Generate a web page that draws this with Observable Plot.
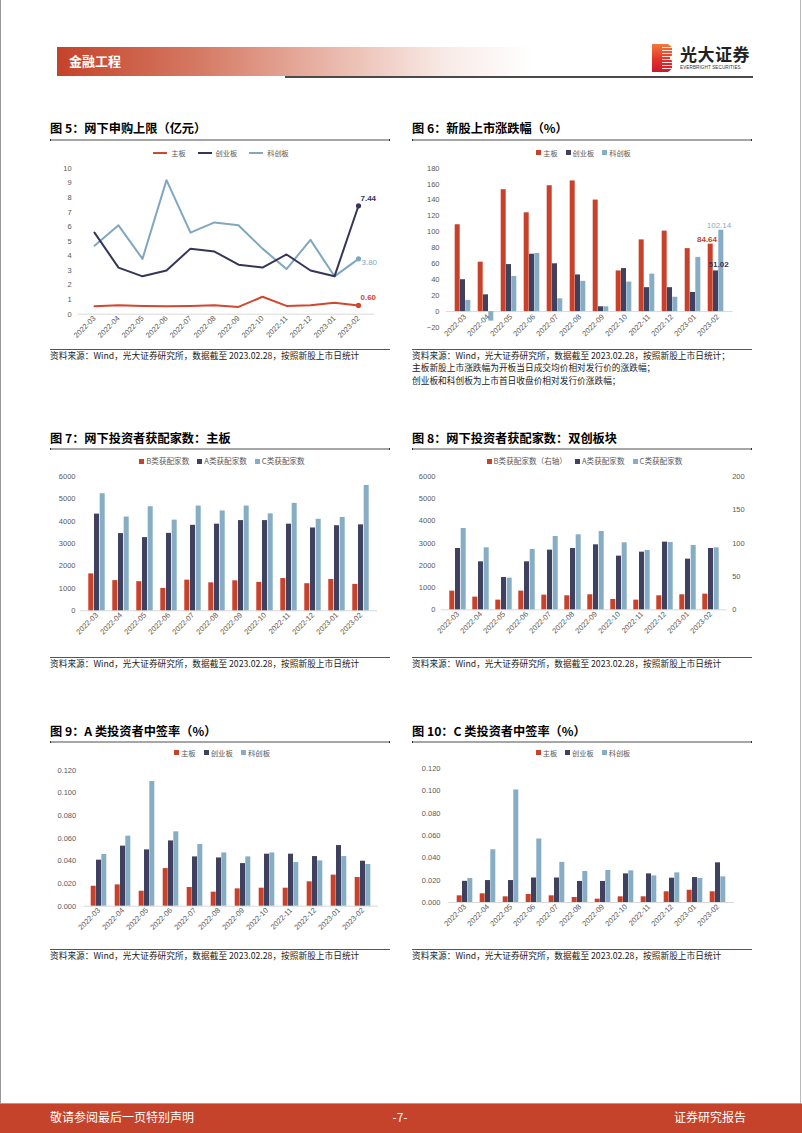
<!DOCTYPE html>
<html><head><meta charset="utf-8">
<script src="https://cdn.jsdelivr.net/npm/d3@7"></script>
<script src="https://cdn.jsdelivr.net/npm/@observablehq/plot@0.6"></script>
<style>
body{margin:0;background:#fff;}
#page{position:relative;width:802px;height:1133px;overflow:hidden;font-family:"Noto Sans CJK SC","Noto Sans",sans-serif;background:#fff;}
.abs{position:absolute;}
.title{position:absolute;font-weight:700;font-size:12.2px;line-height:17px;color:#000;white-space:nowrap;}
.uline{position:absolute;height:2px;background:#a6a6a6;border-left:1px solid #333;border-right:1px solid #333;}
.src{position:absolute;font-size:8.7px;color:#222;white-space:nowrap;line-height:12.5px;}
.srcline{position:absolute;height:1px;background:#555;width:340px;}
.legend{position:absolute;width:340px;display:flex;justify-content:center;align-items:center;font-size:7.2px;color:#595959;white-space:nowrap;gap:8px;line-height:10px;}
.legend .item{display:flex;align-items:center;gap:2px;}
.sw{display:inline-block;width:5px;height:5px;}
.ln{display:inline-block;width:14px;height:2px;margin-right:2px;}
</style></head>
<body><div id="page"></div>
<script>
// ---------------- data ----------------
const months = ["2022-03","2022-04","2022-05","2022-06","2022-07","2022-08","2022-09","2022-10","2022-11","2022-12","2023-01","2023-02"];
const boards = ["主板","创业板","科创板"];
// 图5 网下申购上限（亿元）
const capMain = [0.55,0.62,0.57,0.55,0.57,0.62,0.50,1.20,0.57,0.62,0.78,0.60];
const capGem  = [5.6,3.2,2.6,3.0,4.5,4.3,3.4,3.2,4.1,3.0,2.6,7.44];
const capStar = [4.7,6.1,3.8,9.2,5.6,6.3,6.1,4.5,3.1,5.1,2.6,3.80];
const capTicks = [0,1,2,3,4,5,6,7,8,9,10];
// 图6 新股上市涨跌幅（%）
const retMain = [109,62,153,124,158,164,140,51,90,101,79,84.64];
const retGem  = [40,21,59,72,60,46,6,54,30,30,24,51.02];
const retStar = [14,-12,44,73,16,38,6,37,47,18,68,102.14];
const retTicks = [-20,0,20,40,60,80,100,120,140,160,180];
// 图7 主板获配家数
const mainSeries = ["B类获配家数","A类获配家数","C类获配家数"];
const mainB = [1650,1350,1300,1000,1370,1250,1340,1270,1440,1210,1400,1180];
const mainA = [4320,3450,3270,3460,3820,3870,4030,4030,3870,3700,3800,3840];
const mainC = [5230,4190,4650,4050,4680,4460,4680,4330,4800,4090,4170,5600];
const countTicks = [0,1000,2000,3000,4000,5000,6000];
// 图8 双创板块获配家数
const dualSeries = ["B类获配家数（右轴）","A类获配家数","C类获配家数"];
const dualB = [28,19,14.5,28,22,21,22.5,15.5,14.5,21,22.5,23.5];
const dualA = [2760,2160,1455,2160,2685,2760,2925,2415,2595,3045,2280,2760];
const dualC = [3660,2790,1425,2715,3300,3375,3525,3015,2670,3030,2895,2790];
const rightTicks = [0,50,100,150,200];
// 图9 A类中签率（%）
const rateAMain = [0.0176,0.0188,0.0132,0.0332,0.0165,0.0124,0.0153,0.0159,0.0159,0.0215,0.0274,0.0253];
const rateAGem  = [0.0406,0.0530,0.0497,0.0576,0.0435,0.0426,0.0376,0.0459,0.0459,0.0438,0.0535,0.0397];
const rateAStar = [0.0456,0.0618,0.1100,0.0656,0.0544,0.0470,0.0435,0.0470,0.0385,0.0400,0.0438,0.0368];
// 图10 C类中签率（%）
const rateCMain = [0.0060,0.0078,0.0051,0.0072,0.0060,0.0045,0.0030,0.0051,0.0051,0.0096,0.0110,0.0096];
const rateCGem  = [0.0190,0.0197,0.0197,0.0220,0.0220,0.0189,0.0189,0.0257,0.0257,0.0218,0.0224,0.0356];
const rateCStar = [0.0215,0.0473,0.1010,0.0570,0.0360,0.0278,0.0287,0.0284,0.0239,0.0266,0.0215,0.0230];
const rateTicks = [0,0.02,0.04,0.06,0.08,0.10,0.12];

const sourceText = "资料来源：Wind，光大证券研究所，数据截至 2023.02.28，按照新股上市日统计";

// ---------------- style ----------------
const RED = "#c8412a", NAVY = "#40405f", BLUE = "#86adc3";
const LRED = "#d2472f", LNAVY = "#35355a", LBLUE = "#7fa7bf";
const AXIS_FONT = "'Liberation Sans','Noto Sans CJK SC',sans-serif";

const page = document.getElementById("page");
function add(html){ const d=document.createElement("div"); d.innerHTML=html; while(d.firstChild) page.appendChild(d.firstChild); }
function place(node, left, top){ const w=document.createElement("div"); w.className="abs"; w.style.left=left+"px"; w.style.top=top+"px"; w.appendChild(node); page.appendChild(w); }
const axisStyle = {fontFamily: AXIS_FONT, fontSize: "7.5px", color: "#595959", background: "transparent", overflow: "visible"};

// ---------------- page frame ----------------
add(`<div class="abs" style="left:0;top:0;width:1px;height:1133px;background:#9a9a9a"></div>`);
add(`<div class="abs" style="left:800px;top:0;width:1px;height:1133px;background:#bbb"></div>`);
add(`<div class="abs" style="left:57px;top:47px;width:475px;height:29px;background:linear-gradient(to right,#c4432a 0%,#d57a64 30%,#ebbcb0 60%,#f8ebe7 82%,rgba(255,255,255,0) 100%)"></div>`);
add(`<div class="abs" style="left:69px;top:51px;font-size:13px;font-weight:700;color:#fff;line-height:20px">金融工程</div>`);
add(`<div class="abs" style="left:285px;top:76px;width:468px;height:1.5px;background:#4a4a4a"></div>`);
// logo
add(`<div class="abs" style="left:652px;top:44px;width:20px;height:28px;background:linear-gradient(to bottom,#f07a3a,#e3332b 55%,#c8192b);clip-path:polygon(0 0,80% 0,100% 12%,100% 40%,88% 50%,100% 60%,100% 88%,80% 100%,0 100%)"></div>`);
add(`<div class="abs" style="left:662px;top:47px;width:10px;height:22px;background:repeating-linear-gradient(to bottom,rgba(255,255,255,0.85) 0 1px,rgba(255,255,255,0) 1px 3px)"></div>`);
add(`<div class="abs" style="left:680px;top:43px;font-size:17px;font-weight:700;color:#222;line-height:22px;letter-spacing:0.5px">光大证券</div>`);
add(`<div class="abs" style="left:680px;top:65px;font-size:4.6px;color:#333;line-height:6px;font-family:'Liberation Sans';letter-spacing:0.1px">EVERBRIGHT SECURITIES</div>`);
// footer
add(`<div class="abs" style="left:0;top:1103px;width:802px;height:30px;background:#c5432a;border-top:1px solid #d98a78"></div>`);
add(`<div class="abs" style="left:50px;top:1108px;font-size:12px;color:#fff;line-height:18px">敬请参阅最后一页特别声明</div>`);
add(`<div class="abs" style="left:380px;top:1108px;width:40px;text-align:center;font-size:12px;color:#fff;line-height:18px">-7-</div>`);
add(`<div class="abs" style="left:600px;top:1108px;width:146px;text-align:right;font-size:12px;color:#fff;line-height:18px">证券研究报告</div>`);

// ---------------- titles / sources ----------------
function titleBlock(text, left, top, ulineTop){
  add(`<div class="title" style="left:${left}px;top:${top}px">${text}</div>`);
  add(`<div class="uline" style="left:${left}px;top:${ulineTop}px;width:338px"></div>`);
}
titleBlock("图 5：网下申购上限（亿元）", 50, 119.5, 139);
titleBlock("图 6：新股上市涨跌幅（%）", 412, 119.5, 139);
titleBlock("图 7：网下投资者获配家数：主板", 50, 429.5, 448);
titleBlock("图 8：网下投资者获配家数：双创板块", 412, 429.5, 448);
titleBlock("图 9：A 类投资者中签率（%）", 50, 722.5, 741);
titleBlock("图 10：C 类投资者中签率（%）", 412, 722.5, 741);

function source(lines, left, lineTop){
  add(`<div class="srcline" style="left:${left}px;top:${lineTop}px"></div>`);
  add(`<div class="src" style="left:${left}px;top:${lineTop+0.5}px">${lines.join("<br>")}</div>`);
}
source([sourceText], 50, 349);
source([sourceText + "；", "主板新股上市涨跌幅为开板当日成交均价相对发行价的涨跌幅；", "创业板和科创板为上市首日收盘价相对发行价涨跌幅；"], 412, 349);
source([sourceText], 50, 657);
source([sourceText], 412, 657);
source([sourceText], 50, 949);
source([sourceText], 412, 949);

// ---------------- legends ----------------
function legend(names, colors, center, top, kind, fs){
  const items = names.map((n,i)=> `<span class="item">${kind==="line" ? `<span class="ln" style="background:${colors[i]}"></span>` : `<span class="sw" style="background:${colors[i]}"></span>`}${n}</span>`).join("");
  add(`<div class="legend" style="left:${center-170}px;top:${top-5}px;${fs?`font-size:${fs}px;`:""}${kind==="line"?"gap:12px;":""}">${items}</div>`);
}
legend(boards, [LRED, LNAVY, LBLUE], 221, 153, "line");
legend(boards, [RED, NAVY, BLUE], 583.5, 152.7, "sq");
legend(mainSeries, [RED, NAVY, BLUE], 222, 461, "sq", 7.6);
legend(dualSeries, [RED, NAVY, BLUE], 584.5, 461, "sq", 7.6);
legend(boards, [RED, NAVY, BLUE], 222, 752.7, "sq", 7.4);
legend(boards, [RED, NAVY, BLUE], 583, 752.7, "sq", 7.2);

// ---------------- Figure 5: lines ----------------
{
  const series = [
    {name: "科创板", values: capStar, color: LBLUE},
    {name: "创业板", values: capGem, color: LNAVY},
    {name: "主板", values: capMain, color: LRED}
  ];
  const marks = [
    Plot.ruleY([0], {stroke: "#d9d9d9"}),
    Plot.axisY({ticks: capTicks, tickSize: 0, tickPadding: 6.5, label: null}),
    Plot.axisX({tickSize: 0, tickPadding: 3, tickRotate: -45, label: null})
  ];
  const labelOffsets = {"科创板": [3, 4, 400], "创业板": [2, -7, 700], "主板": [2, -8, 700]};
  for (const s of series) {
    const data = months.map((m,i)=>({m, v: s.values[i]}));
    marks.push(Plot.line(data, {x: "m", y: "v", stroke: s.color, strokeWidth: 2}));
    const last = [data[data.length-1]];
    marks.push(Plot.dot(last, {x: "m", y: "v", r: 2.6, fill: s.color}));
    const [dx, dy, fw] = labelOffsets[s.name];
    marks.push(Plot.text(last, {x: "m", y: "v", text: d => d.v.toFixed(2), fill: s.color, dx, dy, textAnchor: "start", fontWeight: fw, fontSize: 8}));
  }
  place(Plot.plot({width: 340, height: 190, marginLeft: 27.6, marginRight: 16, marginTop: 8, marginBottom: 36.3,
    style: axisStyle,
    x: {type: "point", domain: months, padding: 0.5, label: null},
    y: {domain: [0, 10], label: null},
    marks}), 50, 160);
}

// ---------------- grouped bars helper ----------------
function barChart({width=340, height, ml, mr, mt, mb, domain, ticks, fmt, pad, series, barW, barStep, zeroLabels=false, texts=[], right=null}){
  const n = months.length;
  const stepCat = (width - ml - mr) / n;
  const pi = 1 - barW / stepCat;
  const marks = [Plot.ruleY([0], {stroke: "#d9d9d9"})];
  series.forEach((s, k) => {
    const data = months.map((m,i)=>({m, v: s.values[i] * (s.factor || 1)}));
    marks.push(Plot.barY(data, {x: "m", y: "v", fill: s.color, dx: (k-1) * barStep}));
  });
  marks.push(Plot.axisY({ticks, tickSize: 0, tickPadding: pad, tickFormat: fmt, label: null}));
  if (right) marks.push(Plot.axisY({anchor: "right", ticks: right.ticks.map(t => t * right.factor), tickFormat: d => d3.format("d")(d / right.factor), tickSize: 0, tickPadding: right.pad, label: null}));
  if (zeroLabels) {
    marks.push(Plot.text(months, {x: d => d, y: () => 0, text: d => d, rotate: -45, textAnchor: "end", lineAnchor: "middle", dy: 4, dx: 2}));
  } else {
    marks.push(Plot.axisX({tickSize: 0, tickPadding: 3, tickRotate: -45, label: null}));
  }
  marks.push(...texts);
  return Plot.plot({width, height, marginLeft: ml, marginRight: mr, marginTop: mt, marginBottom: mb,
    style: axisStyle,
    x: {type: "band", domain: months, paddingInner: pi, paddingOuter: pi/2, label: null, axis: zeroLabels ? null : undefined},
    y: {domain, label: null},
    marks});
}
const intFmt = d3.format("d");

// ---------------- Figure 6 ----------------
{
  const lastIdx = months.length - 1;
  const lab = (vals, color, dx, dy, fw) => Plot.text([{m: months[lastIdx], v: vals[lastIdx]}], {x: "m", y: "v", text: d => d.v.toFixed(2), fill: color, dx, dy, textAnchor: "middle", fontWeight: fw, fontSize: 8});
  place(barChart({height: 190, ml: 35.75, mr: 17.4, mt: 7.7, mb: 23, domain: [-20, 180], ticks: retTicks, fmt: intFmt, pad: 6.75,
    series: [{values: retMain, color: RED}, {values: retGem, color: NAVY}, {values: retStar, color: BLUE}],
    barW: 4.7, barStep: 5.3, zeroLabels: true,
    texts: [lab(retMain, RED, -9, -5, 700), lab(retGem, LNAVY, 2.6, -6, 700), lab(retStar, BLUE, 3, -4.5, 400)]
  }), 410, 160);
}

// ---------------- Figure 7 ----------------
place(barChart({height: 190, ml: 30.3, mr: 12.9, mt: 6, mb: 49.7, domain: [0, 6000], ticks: countTicks, fmt: intFmt, pad: 5.3,
  series: [{values: mainB, color: RED}, {values: mainA, color: NAVY}, {values: mainC, color: BLUE}],
  barW: 5, barStep: 5.7}), 50, 470);

// ---------------- Figure 8 ----------------
place(barChart({height: 190, ml: 30.8, mr: 23.4, mt: 6, mb: 50.7, domain: [0, 6000], ticks: countTicks, fmt: intFmt, pad: 5.8,
  series: [{values: dualB, color: RED, factor: 30}, {values: dualA, color: NAVY}, {values: dualC, color: BLUE}],
  barW: 5, barStep: 5.7, right: {ticks: rightTicks, factor: 30, pad: 5.1}}), 410, 470);

// ---------------- Figure 9 ----------------
place(barChart({height: 188, ml: 33.4, mr: 12, mt: 7.7, mb: 44.3, domain: [0, 0.12], ticks: rateTicks, fmt: d3.format(".3f"), pad: 7.7,
  series: [{values: rateAMain, color: RED}, {values: rateAGem, color: NAVY}, {values: rateAStar, color: BLUE}],
  barW: 5, barStep: 5.3}), 50, 762);

// ---------------- Figure 10 ----------------
place(barChart({height: 188, ml: 38.4, mr: 15.8, mt: 6.3, mb: 48, domain: [0, 0.12], ticks: rateTicks, fmt: d3.format(".3f"), pad: 8.4,
  series: [{values: rateCMain, color: RED}, {values: rateCGem, color: NAVY}, {values: rateCStar, color: BLUE}],
  barW: 4.8, barStep: 5.3}), 410, 762);
</script>
</body></html>
